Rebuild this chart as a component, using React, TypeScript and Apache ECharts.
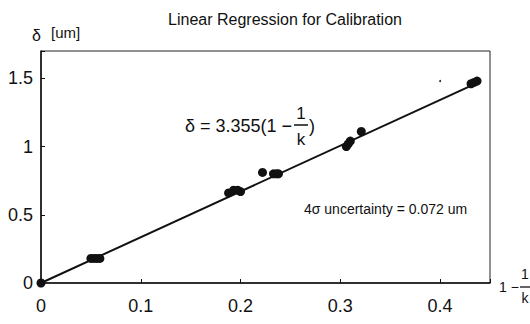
import React, { useEffect, useRef } from "react";
import * as echarts from "echarts";

// 1 - 1/k values (x) and measured delta in um (y)
const xValues = [0, 0.050, 0.053, 0.056, 0.059, 0.188, 0.193, 0.197, 0.200, 0.222, 0.233, 0.236, 0.238, 0.306, 0.308, 0.310, 0.321, 0.431, 0.434, 0.437];
const yValues = [0, 0.18, 0.18, 0.18, 0.18, 0.66, 0.68, 0.68, 0.67, 0.81, 0.80, 0.80, 0.80, 1.00, 1.02, 1.04, 1.11, 1.46, 1.47, 1.48];
// regression line endpoints (delta = 3.355 (1 - 1/k))
const fitX = [0, 0.44];
const fitY = [0, 1.476];
// stray speck in the original figure
const speckX = [0.4];
const speckY = [1.48];

const xTicks = [0, 0.1, 0.2, 0.3, 0.4];
const yTicks = [0, 0.5, 1, 1.5];

const FONT = "'Liberation Sans', Arial, Helvetica, sans-serif";

export default function App() {
  const ref = useRef<HTMLDivElement>(null);
  useEffect(() => {
    if (!ref.current) return;
    const chart = echarts.init(ref.current, null, { renderer: "svg" });
    const near = (v: number, arr: number[]) => arr.some((t) => Math.abs(t - v) < 1e-9);
    const eqY = 126;
    const mid = { verticalAlign: "middle", textVerticalAlign: "middle" };
    const ctr = { align: "center", textAlign: "center", verticalAlign: "middle", textVerticalAlign: "middle" };
    chart.setOption({
      animation: false,
      backgroundColor: "#fff",
      title: {
        text: "Linear Regression for Calibration",
        left: 280,
        top: 6,
        textAlign: "center",
        textStyle: { fontFamily: FONT, fontSize: 16, fontWeight: "normal", color: "#111" },
      },
      grid: {
        left: 41,
        top: 51,
        width: 449,
        height: 232,
        show: true,
        borderColor: "#222",
        borderWidth: 1,
        backgroundColor: "transparent",
      },
      xAxis: {
        type: "value",
        min: 0,
        max: 0.45,
        interval: 0.1,
        axisLine: { show: true, onZero: false, lineStyle: { color: "#111", width: 1.5 } },
        axisTick: { show: true, inside: true, length: 4, lineStyle: { color: "#111", width: 1 } },
        splitLine: { show: false },
        axisLabel: {
          margin: 14,
          fontFamily: FONT,
          fontSize: 18,
          color: "#111",
          formatter: (v: number) => (near(v, xTicks) ? String(v) : ""),
        },
      },
      yAxis: {
        type: "value",
        min: 0,
        max: 1.7,
        interval: 0.5,
        axisLine: { show: true, onZero: false, lineStyle: { color: "#111", width: 1.5 } },
        axisTick: { show: true, inside: true, length: 4, lineStyle: { color: "#111", width: 1 } },
        splitLine: { show: false },
        axisLabel: {
          margin: 8,
          fontFamily: FONT,
          fontSize: 18,
          color: "#111",
          formatter: (v: number) => (near(v, yTicks) ? String(v) : ""),
        },
      },
      series: [
        {
          type: "line",
          data: fitX.map((x, i) => [x, fitY[i]]),
          showSymbol: false,
          lineStyle: { color: "#111", width: 2 },
          silent: true,
        },
        {
          type: "scatter",
          data: xValues.map((x, i) => [x, yValues[i]]),
          symbol: "circle",
          symbolSize: 9,
          itemStyle: { color: "#111", opacity: 1 },
        },
        {
          type: "scatter",
          data: speckX.map((x, i) => [x, speckY[i]]),
          symbol: "circle",
          symbolSize: 2,
          itemStyle: { color: "#333", opacity: 1 },
        },
      ],
      graphic: [
        { type: "text", x: 32, y: 35, style: { text: "δ", fontFamily: FONT, fontSize: 16, fill: "#111", ...mid } },
        { type: "text", x: 51, y: 32, style: { text: "[um]", fontFamily: FONT, fontSize: 15, fill: "#111", ...mid } },
        // equation
        { type: "text", x: 185, y: eqY, style: { text: "δ = 3.355(1 −", fontFamily: FONT, fontSize: 18, fill: "#111", ...mid } },
        { type: "text", x: 301, y: 113, style: { text: "1", fontFamily: FONT, fontSize: 17, fill: "#111", ...ctr } },
        { type: "line", shape: { x1: 294, y1: 125, x2: 308, y2: 125 }, style: { stroke: "#111", lineWidth: 1.5 } },
        { type: "text", x: 301, y: 139, style: { text: "k", fontFamily: FONT, fontSize: 17, fill: "#111", ...ctr } },
        { type: "text", x: 309, y: eqY, style: { text: ")", fontFamily: FONT, fontSize: 18, fill: "#111", ...mid } },
        // uncertainty
        { type: "text", x: 304, y: 209, style: { text: "4σ uncertainty = 0.072 um", fontFamily: FONT, fontSize: 14, fill: "#111", ...mid } },
        // x axis name: 1 - 1/k
        { type: "text", x: 499, y: 287, style: { text: "1 −", fontFamily: FONT, fontSize: 14, fill: "#111", ...mid } },
        { type: "text", x: 525, y: 274, style: { text: "1", fontFamily: FONT, fontSize: 14, fill: "#111", ...ctr } },
        { type: "line", shape: { x1: 520, y1: 287, x2: 530, y2: 287 }, style: { stroke: "#111", lineWidth: 1.3 } },
        { type: "text", x: 525, y: 298, style: { text: "k", fontFamily: FONT, fontSize: 14, fill: "#111", ...ctr } },
      ],
    });
    return () => chart.dispose();
  }, []);
  return (
    <div
      ref={ref}
      style={{ position: "absolute", left: 0, top: 0, width: 530, height: 324 }}
    />
  );
}
